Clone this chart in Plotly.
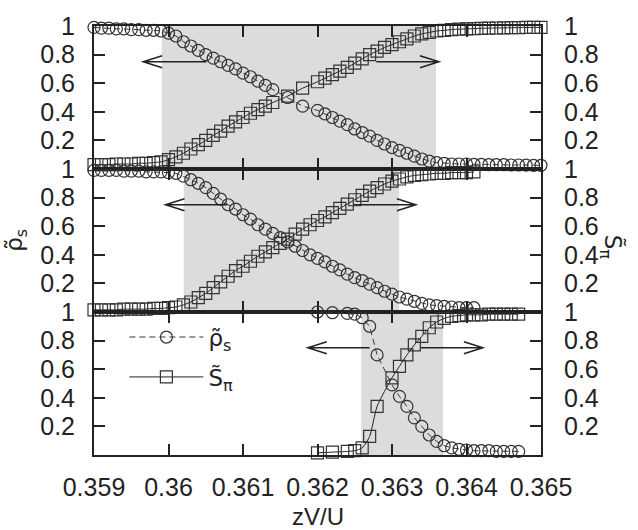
import plotly.graph_objects as go

# ---------------- data ----------------
x_top = [0.3590, 0.3591, 0.3592, 0.3593, 0.3594, 0.3595, 0.3596, 0.3597, 0.3598, 0.3599,
         0.3600, 0.3601, 0.3602, 0.3603, 0.3604, 0.3605, 0.3606, 0.3607, 0.3608, 0.3609,
         0.3610, 0.3611, 0.3612, 0.3613, 0.3614, 0.3616, 0.3618,
         0.3620, 0.3621, 0.3622, 0.3623, 0.3624, 0.3625, 0.3626, 0.3627, 0.3628, 0.3629,
         0.3630, 0.3631, 0.3632, 0.3633, 0.3634, 0.3635, 0.3636, 0.3637, 0.3638, 0.3639,
         0.3640, 0.3641, 0.3642, 0.3643, 0.3644, 0.3645, 0.3646, 0.3647, 0.3648, 0.3649, 0.3650]
rho_top = [0.99, 0.985, 0.985, 0.98, 0.98, 0.975, 0.975, 0.97, 0.97, 0.965,
           0.95, 0.93, 0.89, 0.86, 0.83, 0.80, 0.775, 0.75, 0.725, 0.70,
           0.67, 0.645, 0.615, 0.585, 0.555, 0.50, 0.44,
           0.41, 0.385, 0.36, 0.335, 0.31, 0.28, 0.255, 0.23, 0.20, 0.175,
           0.15, 0.13, 0.11, 0.09, 0.07, 0.055, 0.045, 0.04, 0.035, 0.035,
           0.035, 0.033, 0.032, 0.03, 0.03, 0.03, 0.028, 0.028, 0.027, 0.026, 0.026]
S_top = [0.03, 0.03, 0.03, 0.035, 0.035, 0.035, 0.04, 0.04, 0.045, 0.05,
         0.065, 0.085, 0.11, 0.14, 0.17, 0.20, 0.235, 0.265, 0.30, 0.33,
         0.36, 0.39, 0.415, 0.44, 0.465, 0.51, 0.565,
         0.61, 0.635, 0.66, 0.685, 0.71, 0.74, 0.77, 0.80, 0.825, 0.85,
         0.87, 0.89, 0.91, 0.93, 0.945, 0.955, 0.965, 0.97, 0.975, 0.978,
         0.98, 0.982, 0.984, 0.985, 0.986, 0.987, 0.988, 0.989, 0.99, 0.99, 0.99]

x_mid = [0.3590, 0.3591, 0.3592, 0.3593, 0.3594, 0.3595, 0.3596, 0.3597, 0.3598, 0.3599,
         0.3600, 0.3601, 0.3602, 0.3603, 0.3604, 0.3605, 0.3606, 0.3607, 0.3608, 0.3609,
         0.3610, 0.3611, 0.3612, 0.3613, 0.3614, 0.3615, 0.3616, 0.3617, 0.3618, 0.3619,
         0.3620, 0.3621, 0.3622, 0.3623, 0.3624, 0.3625, 0.3626, 0.3627, 0.3628, 0.3629,
         0.3630, 0.3631, 0.3632, 0.3633, 0.3634, 0.3635, 0.3636, 0.3637, 0.3638, 0.3639,
         0.3640, 0.3641]
rho_mid = [0.99, 0.99, 0.99, 0.99, 0.985, 0.985, 0.985, 0.98, 0.98, 0.98, 0.975, 0.97,
           0.95, 0.925, 0.90, 0.87, 0.83, 0.79, 0.75, 0.72, 0.68, 0.65,
           0.61, 0.58, 0.55, 0.52, 0.49, 0.46, 0.43, 0.40, 0.375, 0.35,
           0.32, 0.295, 0.265, 0.24, 0.22, 0.195, 0.17, 0.145, 0.125, 0.105,
           0.09, 0.075, 0.06, 0.05, 0.045, 0.04, 0.035, 0.03, 0.03, 0.03]
S_mid = [0.015, 0.015, 0.015, 0.015, 0.02, 0.02, 0.02, 0.02, 0.025, 0.025, 0.03, 0.035,
         0.05, 0.07, 0.10, 0.13, 0.17, 0.21, 0.25, 0.29, 0.32, 0.355,
         0.39, 0.42, 0.45, 0.48, 0.51, 0.545, 0.58, 0.61, 0.64, 0.665,
         0.695, 0.725, 0.755, 0.785, 0.815, 0.845, 0.87, 0.895, 0.915, 0.93,
         0.945, 0.955, 0.96, 0.965, 0.97, 0.97, 0.975, 0.975, 0.975, 0.98]

x_bot = [0.3620, 0.3622, 0.3624, 0.3625, 0.3626, 0.3627, 0.3628, 0.3630,
         0.3631, 0.3632, 0.3633, 0.3634, 0.3635, 0.3636, 0.3637, 0.3638, 0.3639,
         0.3640, 0.3641, 0.3642, 0.3643, 0.3644, 0.3645, 0.3646, 0.3647]
rho_bot = [1.0, 0.995, 0.99, 0.985, 0.96, 0.90, 0.70, 0.49,
           0.41, 0.34, 0.26, 0.20, 0.14, 0.095, 0.065, 0.05, 0.04,
           0.035, 0.03, 0.03, 0.03, 0.025, 0.025, 0.025, 0.025]
S_bot = [0.015, 0.02, 0.025, 0.03, 0.05, 0.13, 0.34, 0.54,
         0.62, 0.70, 0.77, 0.83, 0.89, 0.93, 0.955, 0.97, 0.975,
         0.98, 0.98, 0.98, 0.985, 0.985, 0.985, 0.985, 0.985]

# shaded coexistence windows  [x_start, x_end] per panel
bands = [(0.35991, 0.36359), (0.360205, 0.363096), (0.362588, 0.363685)]
# arrows per panel: (tail, head) pairs at height arrow_y
arrows = [[(0.36051, 0.35966), (0.36279, 0.36363)],
          [(0.36079, 0.35996), (0.36249, 0.36332)],
          [(0.36270, 0.36187), (0.36339, 0.36422)]]
arrow_y = 0.75

x_ticks = [0.359, 0.360, 0.361, 0.362, 0.363, 0.364, 0.365]
x_ticktext = ["0.359", "0.36", "0.361", "0.362", "0.363", "0.364", "0.365"]
y_ticks = [0.2, 0.4, 0.6, 0.8, 1.0]
y_ticktext = ["0.2", "0.4", "0.6", "0.8", "1"]

RHO_NAME = "ρ\u0303<sub>s</sub>"
S_NAME = "S\u0303<sub>π</sub>"

# ---------------- figure ----------------
FONT = "Liberation Sans, Arial, Helvetica, sans-serif"
SYMFONT = "DejaVu Sans, Noto Sans, sans-serif"
INK = "#222222"
GRAY = "#dcdcde"
W, H = 638, 530
ML, MR, MT, MB = 94, 97, 23, 75
plot_w = W - ML - MR
plot_h = H - MT - MB

fig = go.Figure()

panels = [(x_top, rho_top, S_top), (x_mid, rho_mid, S_mid), (x_bot, rho_bot, S_bot)]
axis_ids = [("x", "y"), ("x2", "y2"), ("x3", "y3")]
for i, ((xs, rho, S), (xa, ya)) in enumerate(zip(panels, axis_ids)):
    fig.add_trace(go.Scatter(
        x=xs, y=rho, xaxis=xa, yaxis=ya, mode="lines+markers",
        name=RHO_NAME, showlegend=(i == 2), legendrank=1, legendgroup="rho",
        line=dict(color="#333333", width=1, dash="6px,4px"),
        marker=dict(symbol="circle-open", size=12, color="#333333", line=dict(width=1.2)),
        cliponaxis=False))
    fig.add_trace(go.Scatter(
        x=xs, y=S, xaxis=xa, yaxis=ya, mode="lines+markers",
        name=S_NAME, showlegend=(i == 2), legendrank=2, legendgroup="S",
        line=dict(color="#222222", width=1, shape="spline", smoothing=0.6),
        marker=dict(symbol="square-open", size=12, color="#333333", line=dict(width=1.2)),
        cliponaxis=False))

domains = [[2 / 3, 1.0], [1 / 3, 2 / 3], [0.0, 1 / 3]]
layout_axes = {}
for i, (xa, ya) in enumerate(axis_ids):
    xkey = "xaxis" if i == 0 else f"xaxis{i + 1}"
    ykey = "yaxis" if i == 0 else f"yaxis{i + 1}"
    layout_axes[xkey] = dict(
        domain=[0, 1], anchor=ya, range=[0.359, 0.365],
        tickvals=x_ticks, ticktext=x_ticktext, showticklabels=(i == 2),
        ticks="inside", ticklen=11, tickwidth=1.5, tickcolor=INK,
        showline=True, linewidth=2, linecolor=INK, mirror="ticks",
        showgrid=False, zeroline=False, ticklabelstandoff=9,
        tickfont=dict(family=FONT, size=25, color=INK))
    layout_axes[ykey] = dict(
        domain=domains[i], anchor=xa, range=[0, 1],
        tickvals=y_ticks, ticktext=y_ticktext,
        ticks="inside", ticklen=11, tickwidth=1.5, tickcolor=INK,
        showline=True, linewidth=2, linecolor=INK, mirror="ticks",
        showgrid=False, zeroline=False, ticklabelstandoff=12,
        tickfont=dict(family=FONT, size=25, color=INK))
    # right-hand duplicate axis for labels
    rkey = f"yaxis{i + 4}"
    layout_axes[rkey] = dict(
        domain=domains[i], anchor=xa, overlaying=ya, side="right", range=[0, 1],
        tickvals=y_ticks, ticktext=y_ticktext, ticks="",
        showline=False, showgrid=False, zeroline=False, ticklabelstandoff=22,
        tickfont=dict(family=FONT, size=25, color=INK))

# invisible traces to activate right axes
for i, xa in enumerate(["x", "x2", "x3"]):
    fig.add_trace(go.Scatter(x=[0.359], y=[0.5], xaxis=xa, yaxis=f"y{i + 4}",
                             mode="markers", marker=dict(opacity=0), showlegend=False,
                             hoverinfo="skip"))

shapes = []
xscale = 0.006 / plot_w          # data units per pixel in x
yscale = 1.0 / (plot_h / 3)      # data units per pixel in y
HEAD_L, HEAD_HW = 19, 6
for i, ((x0, x1), arr) in enumerate(zip(bands, arrows)):
    xa, ya = axis_ids[i]
    shapes.append(dict(type="rect", xref=xa, yref=f"{ya} domain", x0=x0, x1=x1, y0=0, y1=1,
                       fillcolor=GRAY, line=dict(width=0), layer="below"))
    for tail, head in arr:
        d = 1 if tail > head else -1
        hx = head + d * HEAD_L * xscale
        dy = HEAD_HW * yscale
        path = (f"M{tail},{arrow_y} L{head},{arrow_y} "
                f"M{hx},{arrow_y + dy} L{head},{arrow_y} L{hx},{arrow_y - dy}")
        shapes.append(dict(type="path", xref=xa, yref=ya, path=path,
                           line=dict(color=INK, width=1.5), layer="above"))

annotations = [
    dict(text=RHO_NAME, xref="paper", yref="paper", x=-0.176, y=0.5, textangle=-90,
         showarrow=False, xanchor="center", yanchor="middle",
         font=dict(family=SYMFONT, size=23, color=INK)),
    dict(text=S_NAME, xref="paper", yref="paper", x=1.157, y=0.485, textangle=90,
         showarrow=False, xanchor="center", yanchor="middle",
         font=dict(family=SYMFONT, size=23, color=INK)),
    dict(text="zV/U", xref="paper", yref="paper", x=0.5, y=-0.143,
         showarrow=False, xanchor="center", yanchor="middle",
         font=dict(family=FONT, size=24, color=INK)),
]

fig.update_layout(
    width=W, height=H,
    margin=dict(l=ML, r=MR, t=MT, b=MB),
    paper_bgcolor="white", plot_bgcolor="white",
    shapes=shapes, annotations=annotations,
    legend=dict(x=0.068, y=0.325, xanchor="left", yanchor="top",
                bgcolor="rgba(0,0,0,0)", itemwidth=74,
                font=dict(family=SYMFONT, size=23, color=INK), tracegroupgap=7),
    **layout_axes,
)

fig.write_html("out.html", config={"displayModeBar": False},
               post_script="document.body.style.margin='0';document.body.style.overflow='hidden';")
